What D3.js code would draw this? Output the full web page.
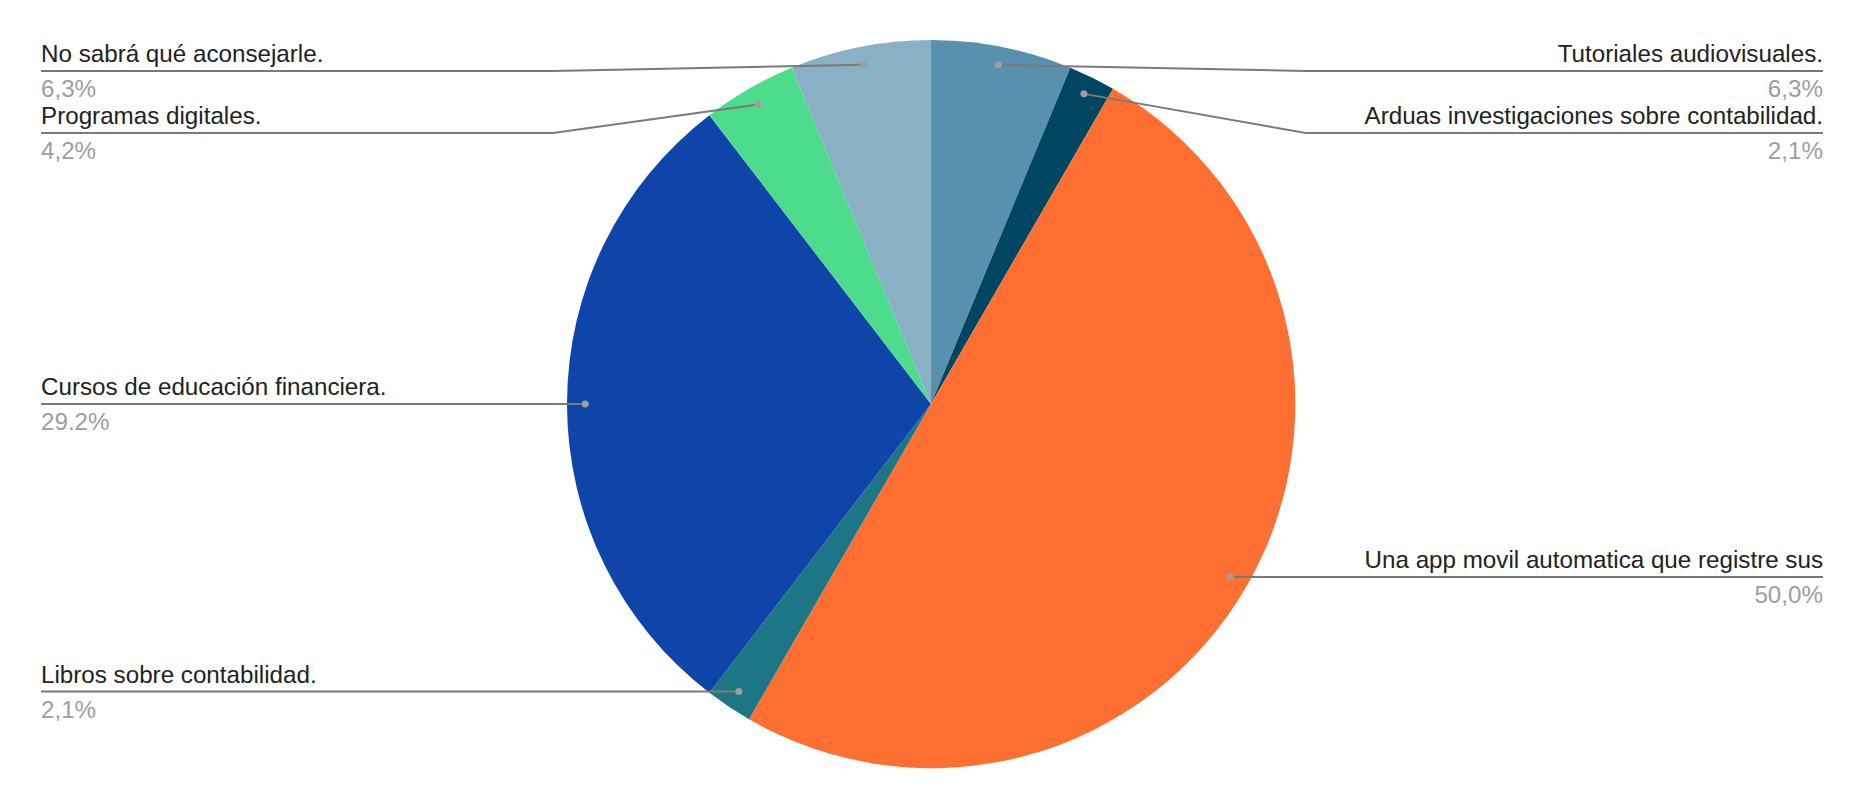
<!DOCTYPE html>
<html>
<head>
<meta charset="utf-8">
<script src="https://cdn.jsdelivr.net/npm/d3@7"></script>
<style>
  html, body { margin: 0; padding: 0; background: #fff; }
  svg { display: block; }
</style>
</head>
<body>
<svg id="chart" width="1862" height="810"></svg>
<script>
// ---- data ----
const categories = [
  "Tutoriales audiovisuales.",
  "Arduas investigaciones sobre contabilidad.",
  "Una app movil automatica que registre sus",
  "Libros sobre contabilidad.",
  "Cursos de educación financiera.",
  "Programas digitales.",
  "No sabrá qué aconsejarle."
];
const counts = [3, 1, 24, 1, 14, 2, 3];
const percentLabels = ["6,3%", "2,1%", "50,0%", "2,1%", "29.2%", "4,2%", "6,3%"];
const colors = ["#5891ad", "#004561", "#ff6f31", "#1c7685", "#0f45a8", "#4cdc8b", "#8ab0c6"];

// ---- layout ----
const W = 1862, H = 810;
const cx = 931, cy = 404, R = 364;
const leftX = 41, rightX = 1823;
const leftElbow = 553, rightElbow = 1306;
const minGap = 62, topLine = 71;
const fontSize = 24.2;

const svg = d3.select("#chart");
const pie = d3.pie().sort(null).value(d => d)(counts);
const arc = d3.arc().innerRadius(0).outerRadius(R);

const g = svg.append("g").attr("transform", `translate(${cx},${cy})`);
g.selectAll("path").data(pie).enter().append("path")
  .attr("d", arc)
  .attr("fill", (d, i) => colors[i]);

// anchor points
const items = pie.map((d, i) => {
  const a = (d.startAngle + d.endAngle) / 2;
  const r = R * 0.95;
  return {
    i,
    x: cx + r * Math.sin(a),
    y: cy - r * Math.cos(a),
    side: Math.sin(a) >= 0 ? "right" : "left"
  };
});

["left", "right"].forEach(side => {
  const list = items.filter(d => d.side === side).sort((a, b) => a.y - b.y);
  let prev = -Infinity;
  list.forEach(d => {
    d.ly = Math.max(d.y, prev + minGap, topLine);
    prev = d.ly;
  });
});

const labels = svg.append("g");
items.forEach(d => {
  const endX = d.side === "left" ? leftX : rightX;
  const elbowX = d.side === "left" ? leftElbow : rightElbow;
  const pts = Math.abs(d.ly - d.y) < 1
    ? [[d.x, d.ly], [endX, d.ly]]
    : [[d.x, d.y], [elbowX, d.ly], [endX, d.ly]];
  labels.append("path")
    .attr("d", d3.line()(pts))
    .attr("fill", "none")
    .attr("stroke", "#7a7a7a")
    .attr("stroke-width", 2);
  labels.append("circle")
    .attr("cx", d.x).attr("cy", d.y).attr("r", 3.5)
    .attr("fill", "#9e9e9e");
  const anchor = d.side === "left" ? "start" : "end";
  labels.append("text")
    .attr("x", endX).attr("y", d.ly - 9)
    .attr("text-anchor", anchor)
    .attr("font-family", "'Liberation Sans', Arial, sans-serif")
    .attr("font-size", fontSize)
    .attr("fill", "#222")
    .text(categories[d.i]);
  labels.append("text")
    .attr("x", endX).attr("y", d.ly + 26)
    .attr("text-anchor", anchor)
    .attr("font-family", "'Liberation Sans', Arial, sans-serif")
    .attr("font-size", fontSize)
    .attr("fill", "#9e9e9e")
    .text(percentLabels[d.i]);
});
</script>
</body>
</html>
